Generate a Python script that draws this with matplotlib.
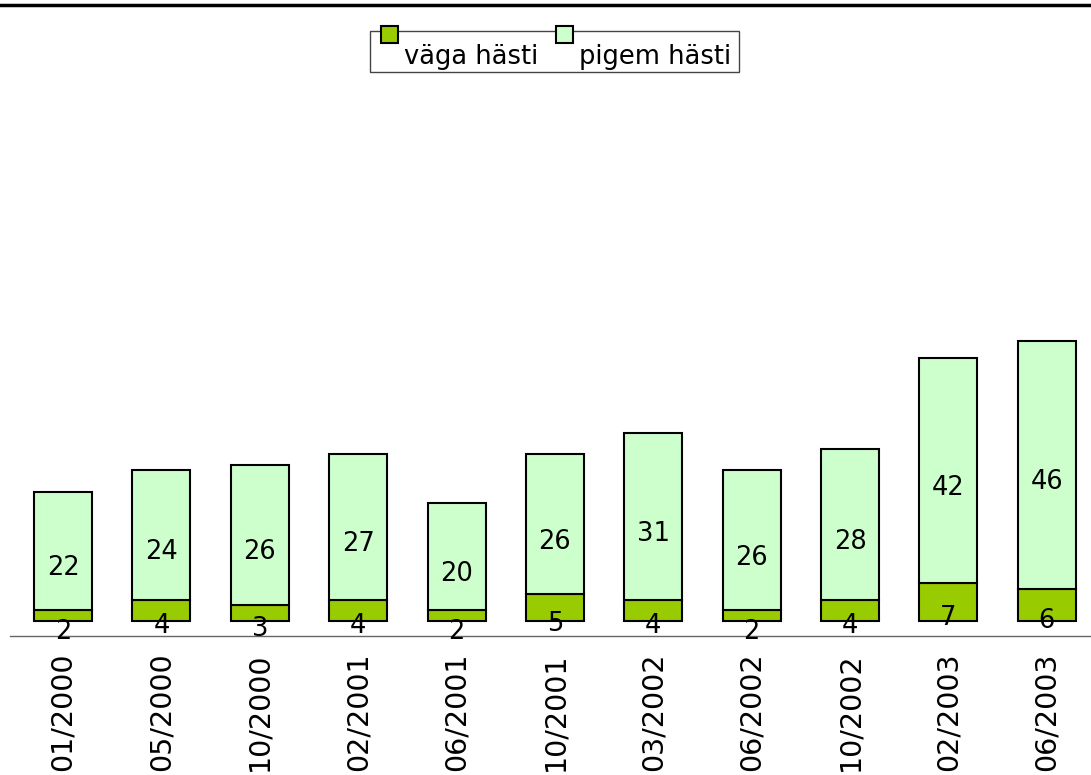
import matplotlib.pyplot as plt
from matplotlib.patches import Rectangle
from matplotlib.legend_handler import HandlerPatch
from matplotlib.container import BarContainer
from matplotlib.lines import Line2D
from matplotlib.transforms import ScaledTranslation

dates = ["01/2000", "05/2000", "10/2000", "02/2001", "06/2001", "10/2001",
         "03/2002", "06/2002", "10/2002", "02/2003", "06/2003"]
vaga = [2, 4, 3, 4, 2, 5, 4, 2, 4, 7, 6]
pigem = [22, 24, 26, 27, 20, 26, 31, 26, 28, 42, 46]

dark = "#99CC00"
light = "#CCFFCC"

SQ = 12.2  # legend square side, points


def raised_square(legend, orig_handle, xdescent, ydescent, width, height, fontsize):
    # small square poking out above the legend frame, like the original
    return Rectangle((-xdescent + width - SQ, -ydescent + height * 0.95 - 0.7), SQ, SQ)


def copy_first(legend_handle, orig_handle):
    legend_handle.update_from(orig_handle.patches[0])


fig = plt.figure(figsize=(10.91, 7.75), dpi=100)
ax = fig.add_axes([10 / 1091, (775 - 636) / 775, 1.0 - 10 / 1091, (636 - 5) / 775])

x = list(range(len(dates)))
b1 = ax.bar(x, vaga, width=0.59, color=dark, edgecolor="black", linewidth=1.5,
            label="väga hästi")
b2 = ax.bar(x, pigem, width=0.59, bottom=vaga, color=light, edgecolor="black",
            linewidth=1.5, label="pigem hästi")

for i in x:
    ax.annotate(str(vaga[i]), (i, vaga[i] / 2), xytext=(0, -11.5), textcoords="offset points",
                ha="center", va="center", fontsize=18.5)
    ax.annotate(str(pigem[i]), (i, vaga[i] + pigem[i] / 2), xytext=(0, -12.5),
                textcoords="offset points", ha="center", va="center", fontsize=18.5)

ax.set_xlim(-0.54, 10.45)
ax.set_ylim(-2.79, 114.6)
ax.set_yticks([])
ax.set_xticks(x)
ax.set_xticklabels(dates, rotation=90, fontsize=20.5)
ax.tick_params(axis="x", length=0, pad=12)
for s in ["top", "left", "right"]:
    ax.spines[s].set_visible(False)
ax.spines["bottom"].set_color("#666666")
ax.spines["bottom"].set_linewidth(1)

fig.add_artist(Line2D([0, 1], [(775 - 5) / 775] * 2, color="black", linewidth=2.5,
                      transform=fig.transFigure))

leg = ax.legend(handles=[b1, b2], loc="upper center", ncol=2,
                bbox_to_anchor=(0.508, (775 - 31) / 775), bbox_transform=fig.transFigure,
                borderaxespad=0, fontsize=18.5, frameon=True, fancybox=False, framealpha=1,
                edgecolor="#444444", handlelength=0.78, handleheight=0.66,
                handletextpad=0.23, columnspacing=0.58, borderpad=0.3,
                handler_map={BarContainer: HandlerPatch(patch_func=raised_square,
                                                        update_func=copy_first)})
leg.get_frame().set_linewidth(1)
# legend text sits low in the box in the original
for t in leg.get_texts():
    t.set_transform(t.get_transform() + ScaledTranslation(0, -3.6 / 72, fig.dpi_scale_trans))

fig.savefig("out.png", dpi=100)
